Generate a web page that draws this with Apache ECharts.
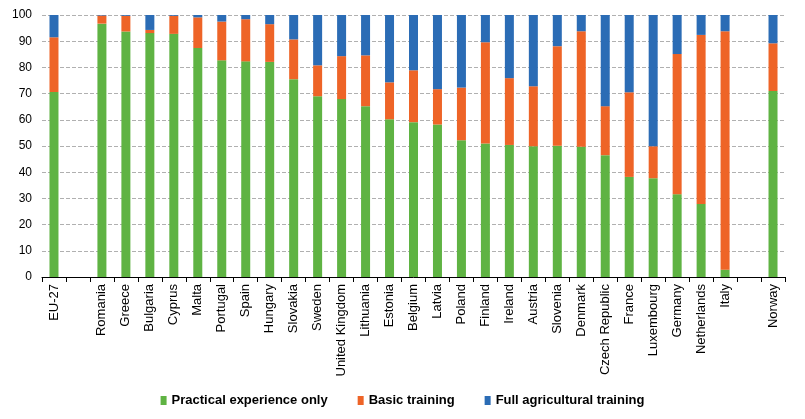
<!DOCTYPE html>
<html><head><meta charset="utf-8">
<script src="https://cdn.jsdelivr.net/npm/echarts@6/dist/echarts.min.js"></script>
<style>html,body{margin:0;padding:0;background:#fff}#c{width:805px;height:419px}</style>
</head><body><div id="c"></div>
<script>
const categories = ["EU-27","","Romania","Greece","Bulgaria","Cyprus","Malta","Portugal","Spain","Hungary","Slovakia","Sweden","United Kingdom","Lithuania","Estonia","Belgium","Latvia","Poland","Finland","Ireland","Austria","Slovenia","Denmark","Czech Republic","France","Luxembourg","Germany","Netherlands","Italy","","Norway"];
const practical = [70.6,null,96.7,93.7,93.1,92.8,87.4,82.7,82.3,82.1,75.5,69.0,67.9,65.2,60.2,59.1,58.2,52.2,51.0,50.4,49.9,50.1,49.7,46.5,38.2,37.7,31.6,27.9,2.8,null,71.0];
const basic = [20.9,null,3.1,6.0,1.2,6.9,11.7,14.8,16.1,14.4,15.2,11.8,16.4,19.4,14.1,19.8,13.5,20.1,38.6,25.5,22.9,38.0,44.1,18.7,32.3,12.2,53.5,64.5,91.0,null,18.2];
const full = [8.5,null,0.2,0.3,5.7,0.3,0.9,2.5,1.6,3.5,9.3,19.2,15.7,15.4,25.7,21.1,28.3,27.7,10.4,24.1,27.2,11.9,6.2,34.8,29.5,50.1,14.9,7.6,6.2,null,10.8];
const yTicks = [0,10,20,30,40,50,60,70,80,90,100];

const chart = echarts.init(document.getElementById('c'));
const font = 'Arial, "Liberation Sans", sans-serif';
function s(name, data, color){
  return {name, type:'bar', stack:'t', data, barWidth:9, itemStyle:{color}};
}
chart.setOption({
  animation:false,
  grid:{left:42,right:20,top:15,bottom:142},
  legend:{
    bottom:7, left:'center', itemWidth:6, itemHeight:9, itemGap:30,
    icon:'rect',
    textStyle:{fontFamily:font,fontSize:13,fontWeight:'bold',color:'#000'},
    data:['Practical experience only','Basic training','Full agricultural training']
  },
  xAxis:{
    type:'category', data:categories,
    axisLine:{lineStyle:{color:'#000'}},
    axisTick:{show:true,alignWithLabel:false,length:5,lineStyle:{color:'#000'}},
    axisLabel:{rotate:90,interval:0,fontFamily:font,fontSize:13,color:'#000',margin:7}
  },
  yAxis:{
    type:'value', min:0, max:100, interval:10,
    axisLine:{show:false}, axisTick:{show:false},
    axisLabel:{fontFamily:font,fontSize:12,color:'#000',margin:10,
      formatter:v=>yTicks.includes(v)?String(v):''},
    splitLine:{lineStyle:{color:'#b0b0b0',type:'dashed'}}
  },
  series:[
    s('Practical experience only', practical, '#5fb343'),
    s('Basic training', basic, '#ee6427'),
    s('Full agricultural training', full, '#2b6cb5')
  ]
});
</script></body></html>
